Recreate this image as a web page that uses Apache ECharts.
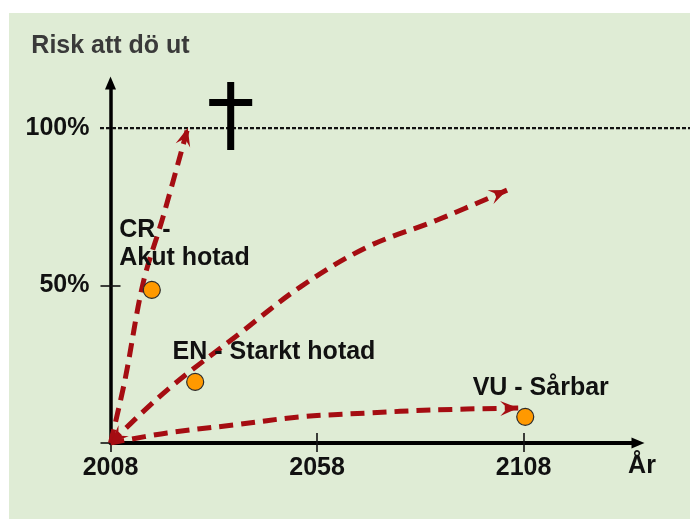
<!DOCTYPE html>
<html><head><meta charset="utf-8">
<script src="https://cdn.jsdelivr.net/npm/echarts@6/dist/echarts.min.js"></script>
<style>
html,body{margin:0;padding:0;background:#fff;width:690px;height:519px;overflow:hidden}
#c{position:absolute;left:9px;top:13px;width:681px;height:506px;background:#dfecd5}
</style></head><body><div id="c"></div>
<script>
// ---- data ----
const xTicks = [2008, 2058, 2108];
const yTickValues = [0, 50];
const yLabelValues = [50, 100];
const xName = 'År';
const yName = 'Risk att dö ut';
const refLevel = [100];

const crYears = [2008, 2011.5, 2015.9, 2020.7, 2026.7];
const crRisk  = [0, 20.0, 50.8, 71.7, 100];
const enYears = [2008, 2021.7, 2039.4, 2053.9, 2070.1, 2087.1, 2104.0];
const enRisk  = [0, 16.8, 34.9, 49.5, 62.2, 70.8, 80.3];
const vuYears = [2008, 2021.7, 2037.7, 2053.9, 2070.1, 2086.1, 2106.7];
const vuRisk  = [0, 3.2, 5.7, 8.3, 9.5, 10.5, 11.1];

const statusNames = ['CR -\nAkut hotad', 'EN - Starkt hotad', 'VU - Sårbar'];
const statusYears = [2018.0, 2028.5, 2108.4];
const statusRisk  = [48.6, 19.4, 8.3];

const crossYear = [2037.1];
const crossRisk = [103.8];

// ---- styles ----
const RED = '#a50d12';
const TXT = '#111111';
const FONT = '"Liberation Sans", Arial, sans-serif';
const labelOffsets = [[-23.5, -64.5], [-13.5, -35], [-43.5, -33.5]];

const zip = (xs, ys) => xs.map((x, i) => [x, ys[i]]);
const curves = [zip(crYears, crRisk), zip(enYears, enRisk), zip(vuYears, vuRisk)];

// arrowheads: [fromX, fromY, toX, toY]
const heads = curves.map(c => [c[c.length - 2][0], c[c.length - 2][1], c[c.length - 1][0], c[c.length - 1][1]]);
const en = curves[1];
heads.push([en[1][0], en[1][1], en[0][0], en[0][1]]);

const chart = echarts.init(document.getElementById('c'), null, {renderer: 'canvas'});

const dashSeries = curves.map(c => ({
  type: 'line', xAxisIndex: 0, yAxisIndex: 0, data: c, smooth: 0.35,
  showSymbol: false, symbol: 'none', silent: true, z: 3,
  lineStyle: {color: RED, width: 5, type: [14, 8], cap: 'butt'}
}));

const xMax = 2135.7, yMax = 114.3;

chart.setOption({
  animation: false,
  grid: [
    {left: 101.5, right: 52, top: 70, bottom: 76},
    {left: 91, right: 0, top: 70, bottom: 76}
  ],
  xAxis: [
    {type: 'value', gridIndex: 0, min: 2008, max: xMax, position: 'bottom',
     axisLine: {onZero: false, symbol: ['none', 'triangle'], symbolSize: [11, 13],
       lineStyle: {color: '#000', width: 4}},
     axisTick: {show: true, customValues: xTicks, length: 9, lineStyle: {color: '#111', width: 1.6}},
     axisLabel: {customValues: xTicks, margin: 13, fontSize: 25, fontWeight: 'bold', fontFamily: FONT,
       color: TXT, lineHeight: 25, formatter: v => String(v)},
     splitLine: {show: false},
     name: xName, nameLocation: 'end', nameGap: 4,
     nameTextStyle: {fontSize: 25, fontWeight: 'bold', fontFamily: FONT, color: TXT, align: 'center',
       verticalAlign: 'top', lineHeight: 25, padding: [11, 0, 0, 0]}},
    {type: 'value', gridIndex: 0, min: 2008, max: xMax, position: 'bottom',
     axisLine: {show: false, onZero: false},
     axisTick: {show: true, inside: true, customValues: xTicks, length: 10, lineStyle: {color: '#111', width: 1.6}},
     axisLabel: {show: false}, splitLine: {show: false}},
    {type: 'value', gridIndex: 1, min: 0, max: 1, show: false}
  ],
  yAxis: [
    {type: 'value', gridIndex: 0, min: 0, max: yMax, position: 'left',
     axisLine: {show: true, onZero: false, symbol: ['none', 'triangle'], symbolSize: [11, 13],
       lineStyle: {color: '#000', width: 3.5}},
     axisTick: {show: true, customValues: yTickValues, length: 10, lineStyle: {color: '#111', width: 1.6}},
     axisLabel: {customValues: yLabelValues, margin: 21, fontSize: 25, fontWeight: 'bold', fontFamily: FONT,
       color: TXT, formatter: v => v + '%'},
     splitLine: {show: false},
     name: yName, nameLocation: 'end', nameGap: 23,
     nameTextStyle: {fontSize: 25, fontWeight: 'bold', fontFamily: FONT, color: '#3a3a3a', lineHeight: 28, align: 'center'}},
    {type: 'value', gridIndex: 0, min: 0, max: yMax, position: 'left',
     axisLine: {show: false, onZero: false},
     axisTick: {show: true, inside: true, customValues: [50], length: 10, lineStyle: {color: '#111', width: 1.6}},
     axisLabel: {show: false}, splitLine: {show: false}},
    {type: 'value', gridIndex: 1, min: 0, max: yMax, show: false}
  ],
  series: [
    {type: 'line', xAxisIndex: 2, yAxisIndex: 2, silent: true, symbol: 'none', z: 1,
     data: [[0, refLevel[0]], [1, refLevel[0]]],
     lineStyle: {color: '#111', width: 2.2, type: [4, 2]}},
    {type: 'scatter', xAxisIndex: 0, yAxisIndex: 0, silent: true, z: 2,
     symbol: 'path://M18,0 h7 v17 h18 v7 h-18 v44 h-7 v-44 h-18 v-7 h18 z',
     symbolSize: [43, 68], symbolKeepAspect: false,
     itemStyle: {color: '#000', opacity: 1},
     data: zip(crossYear, crossRisk)},
    ...dashSeries,
    {type: 'custom', xAxisIndex: 0, yAxisIndex: 0, silent: true, z: 4,
     encode: {x: [0, 2], y: [1, 3]},
     data: heads,
     renderItem: (params, api) => {
       const a = api.coord([api.value(0), api.value(1)]);
       const b = api.coord([api.value(2), api.value(3)]);
       const ang = Math.atan2(b[1] - a[1], b[0] - a[0]);
       const L = 18, W = 15, N = 0.6;
       const c = Math.cos(ang), s = Math.sin(ang);
       const pt = (u, v) => [b[0] + u * c - v * s, b[1] + u * s + v * c];
       return {type: 'polygon', shape: {points: [pt(0, 0), pt(-L, -W / 2), pt(-L * N, 0), pt(-L, W / 2)]},
               style: {fill: RED}};
     }},
    {type: 'scatter', xAxisIndex: 0, yAxisIndex: 0, silent: true, z: 5,
     symbol: 'circle', symbolSize: 17,
     itemStyle: {color: '#ff9900', borderColor: '#2b2b2b', borderWidth: 1.2, opacity: 1},
     data: statusNames.map((n, i) => ({
       name: n, value: [statusYears[i], statusRisk[i]],
       label: {show: true, position: labelOffsets[i], align: 'left', verticalAlign: 'top',
         formatter: '{b}', fontSize: 25, fontWeight: 'bold', fontFamily: FONT, color: TXT, lineHeight: 28}
     }))}
  ]
});
</script></body></html>
